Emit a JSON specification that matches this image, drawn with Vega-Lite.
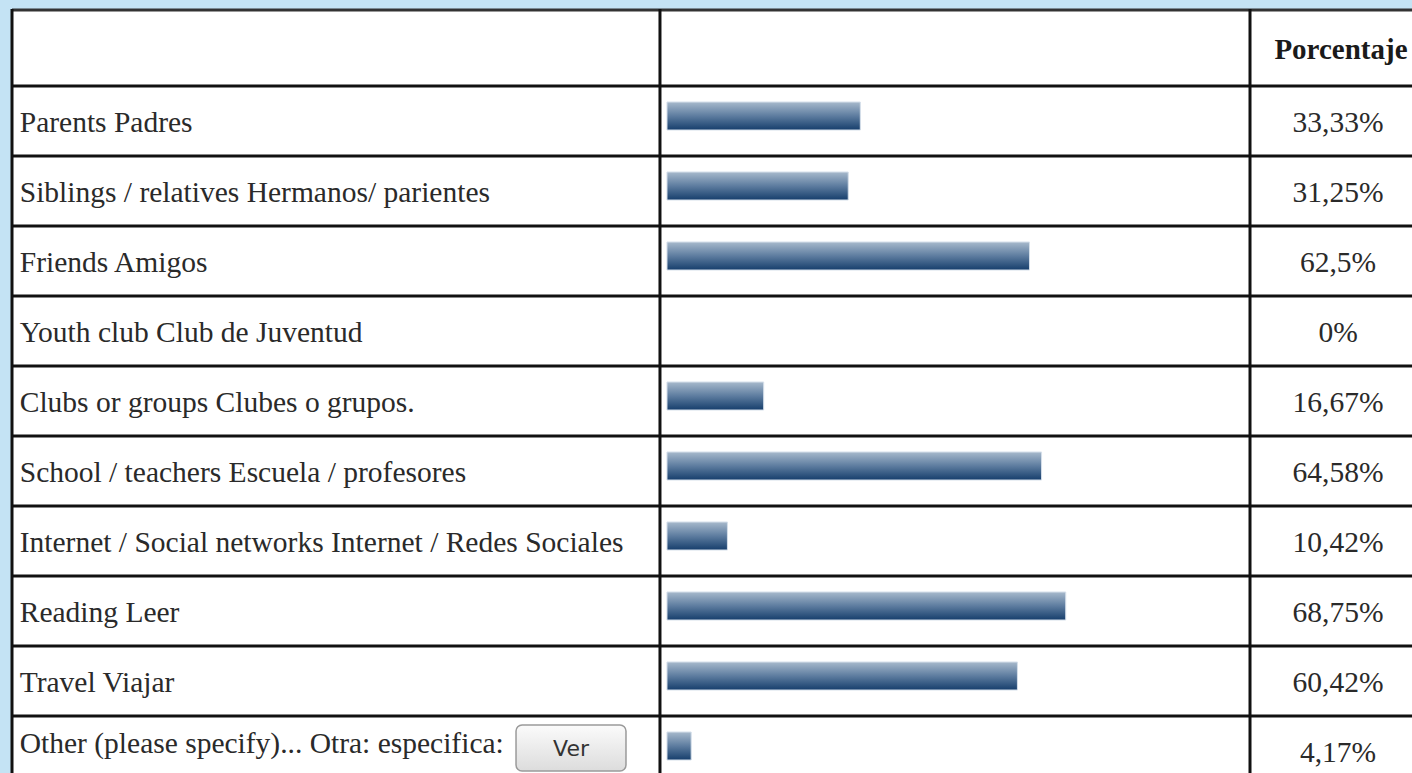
{
  "$schema": "https://vega.github.io/schema/vega-lite/v6.json",
  "width": 1412,
  "height": {"step": 70},
  "autosize": {"type": "none"},
  "padding": {"left": 0, "top": 16, "right": 0, "bottom": 0},
  "background": "#c4e3f4",
  "config": {"view": {"stroke": null}},
  "data": {
    "values": [
      {"cat": "header", "label": "", "value": null, "pct": ""},
      {"cat": "Parents Padres", "label": "Parents Padres", "value": 33.33, "pct": "33,33%"},
      {"cat": "Siblings / relatives Hermanos/ parientes", "label": "Siblings / relatives Hermanos/ parientes", "value": 31.25, "pct": "31,25%"},
      {"cat": "Friends Amigos", "label": "Friends Amigos", "value": 62.5, "pct": "62,5%"},
      {"cat": "Youth club Club de Juventud", "label": "Youth club Club de Juventud", "value": 0, "pct": "0%"},
      {"cat": "Clubs or groups Clubes o grupos.", "label": "Clubs or groups Clubes o grupos.", "value": 16.67, "pct": "16,67%"},
      {"cat": "School / teachers Escuela / profesores", "label": "School / teachers Escuela / profesores", "value": 64.58, "pct": "64,58%"},
      {"cat": "Internet / Social networks Internet / Redes Sociales", "label": "Internet / Social networks Internet / Redes Sociales", "value": 10.42, "pct": "10,42%"},
      {"cat": "Reading Leer", "label": "Reading Leer", "value": 68.75, "pct": "68,75%"},
      {"cat": "Travel Viajar", "label": "Travel Viajar", "value": 60.42, "pct": "60,42%"},
      {"cat": "Other", "label": "Other (please specify)... Otra: especifica:", "value": 4.17, "pct": "4,17%"}
    ]
  },
  "encoding": {
    "y": {"field": "cat", "type": "nominal", "sort": null, "axis": null,
          "scale": {"paddingInner": 0, "paddingOuter": 0}}
  },
  "layer": [
    {
      "mark": {"type": "bar", "color": "white"},
      "encoding": {
        "x": {"datum": -112.93, "type": "quantitative", "axis": null,
              "scale": {"domain": [-115, 128.45], "nice": false, "zero": false}},
        "x2": {"datum": 128.45}
      }
    },
    {
      "transform": [{"filter": "datum.cat == 'header'"}],
      "mark": {"type": "bar", "color": "white", "height": 76, "yOffset": -3},
      "encoding": {
        "x": {"datum": -112.93, "type": "quantitative"},
        "x2": {"datum": 128.45}
      }
    },
    {
      "transform": [{"filter": "datum.cat != 'header'"}],
      "mark": {"type": "rule", "color": "#111", "strokeWidth": 3},
      "encoding": {
        "y": {"field": "cat", "type": "nominal", "sort": null, "bandPosition": 0},
        "x": {"datum": -112.93, "type": "quantitative"},
        "x2": {"datum": 128.45}
      }
    },
    {
      "transform": [{"filter": "datum.cat == 'header'"}],
      "mark": {"type": "rule", "color": "#333", "strokeWidth": 3, "yOffset": -6},
      "encoding": {
        "y": {"field": "cat", "type": "nominal", "sort": null, "bandPosition": 0},
        "x": {"datum": -112.93, "type": "quantitative"},
        "x2": {"datum": 128.45}
      }
    },
    {
      "data": {"values": [{}]},
      "mark": {"type": "rule", "color": "#111", "strokeWidth": 3, "yOffset": -7},
      "encoding": {"x": {"datum": -112.93, "type": "quantitative"}, "y": null}
    },
    {
      "data": {"values": [{}]},
      "mark": {"type": "rule", "color": "#111", "strokeWidth": 3, "yOffset": -7},
      "encoding": {"x": {"datum": -1.21, "type": "quantitative"}, "y": null}
    },
    {
      "data": {"values": [{}]},
      "mark": {"type": "rule", "color": "#111", "strokeWidth": 3, "yOffset": -7},
      "encoding": {"x": {"datum": 100.52, "type": "quantitative"}, "y": null}
    },
    {
      "transform": [{"filter": "datum.value > 0"}],
      "mark": {
        "type": "bar", "height": 28, "yOffset": -5,
        "stroke": "#d5dfea", "strokeWidth": 1,
        "color": {"gradient": "linear", "x1": 0, "y1": 0, "x2": 0, "y2": 1,
                  "stops": [{"offset": 0, "color": "#a7b9cc"}, {"offset": 0.5, "color": "#5d7c9f"}, {"offset": 1, "color": "#163e6c"}]}
      },
      "encoding": {
        "x": {"field": "value", "type": "quantitative"}
      }
    },
    {
      "transform": [{"filter": "datum.cat != 'header' && datum.cat != 'Other'"}],
      "mark": {"type": "text", "align": "left", "baseline": "middle", "font": "Liberation Serif", "fontSize": 29.5, "color": "#2a2a2a", "dy": 2},
      "encoding": {
        "x": {"datum": -111.6, "type": "quantitative"},
        "text": {"field": "label"}
      }
    },
    {
      "transform": [{"filter": "datum.cat == 'Other'"}],
      "mark": {"type": "text", "align": "left", "baseline": "middle", "font": "Liberation Serif", "fontSize": 29.5, "color": "#2a2a2a", "dy": -7},
      "encoding": {
        "x": {"datum": -111.6, "type": "quantitative"},
        "text": {"field": "label"}
      }
    },
    {
      "transform": [{"filter": "datum.cat != 'header'"}],
      "mark": {"type": "text", "align": "center", "baseline": "middle", "font": "Liberation Serif", "fontSize": 29.5, "color": "#2a2a2a", "dy": 2},
      "encoding": {
        "x": {"datum": 115.7, "type": "quantitative"},
        "text": {"field": "pct"}
      }
    },
    {
      "transform": [{"filter": "datum.cat == 'header'"}],
      "mark": {"type": "text", "align": "center", "baseline": "middle", "font": "Liberation Serif", "fontSize": 29, "fontWeight": "bold", "color": "#1a1a1a", "dy": -1},
      "encoding": {
        "x": {"datum": 116.2, "type": "quantitative"},
        "text": {"value": "Porcentaje"}
      }
    },
    {
      "transform": [{"filter": "datum.cat == 'Other'"}],
      "mark": {
        "type": "bar", "height": 46, "yOffset": -3, "cornerRadius": 6,
        "stroke": "#9a9a9a", "strokeWidth": 1.5,
        "color": {"gradient": "linear", "x1": 0, "y1": 0, "x2": 0, "y2": 1,
                  "stops": [{"offset": 0, "color": "#fbfbfb"}, {"offset": 1, "color": "#dcdcdc"}]}
      },
      "encoding": {
        "x": {"datum": -26.03, "type": "quantitative"},
        "x2": {"datum": -7.07}
      }
    },
    {
      "transform": [{"filter": "datum.cat == 'Other'"}],
      "mark": {"type": "text", "align": "center", "baseline": "middle", "font": "DejaVu Sans", "fontSize": 22, "color": "#333", "dy": -2},
      "encoding": {
        "x": {"datum": -16.55, "type": "quantitative"},
        "text": {"value": "Ver"}
      }
    }
  ]
}
